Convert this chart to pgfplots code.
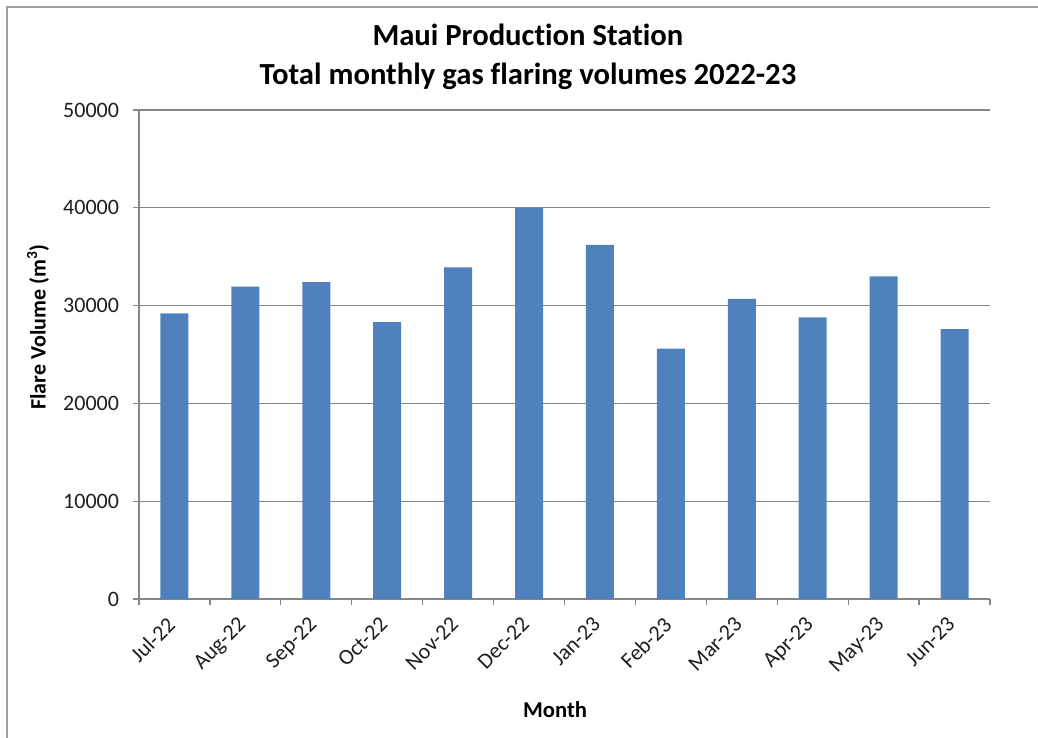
\documentclass[border=0pt]{standalone}
\usepackage{fontspec}
\setmainfont{Carlito}[Ligatures=CommonOff]
\usepackage{pgfplots}
\pgfplotsset{compat=1.18}
\definecolor{barblue}{RGB}{79,129,189}
\definecolor{gridgray}{RGB}{134,134,134}
\definecolor{framegray}{RGB}{160,160,160}
\definecolor{txt}{RGB}{30,30,30}
\begin{document}
\begin{tikzpicture}
\useasboundingbox (0,0) rectangle (778.5pt,-553.5pt);
\draw[framegray, line width=0.9pt] (5.25pt,-553.5pt) -- (5.25pt,-5.25pt) -- (778.5pt,-5.25pt);
\begin{axis}[
  at={(104.25pt,-449.25pt)}, anchor=south west,
  scale only axis, width=638.25pt, height=366.75pt,
  xmin=-0.5, xmax=11.5, ymin=0, ymax=50000,
  ytick={0,10000,20000,30000,40000,50000},
  xtick={-0.5,0.5,1.5,2.5,3.5,4.5,5.5,6.5,7.5,8.5,9.5,10.5,11.5},
  x tick label as interval,
  xticklabels={Jul-22,Aug-22,Sep-22,Oct-22,Nov-22,Dec-22,Jan-23,Feb-23,Mar-23,Apr-23,May-23,Jun-23},
  axis lines*=left,
  axis line style={-, draw=gridgray, line width=0.9pt},
  tick align=outside, major tick length=4.5pt,
  tick style={draw=gridgray, line width=0.9pt},
  ymajorgrids, grid style={gridgray, line width=0.9pt},
  scaled y ticks=false,
  /pgf/number format/assume math mode=true,
  y tick label style={xshift=-7pt, /pgf/number format/fixed, /pgf/number format/1000 sep={}, font=\fontsize{16.5}{20}\selectfont, text=txt},
  x tick label style={xshift=-6.5pt, yshift=-3pt, rotate=45, anchor=north east, font=\fontsize{16.5}{20}\selectfont, text=txt},
  ylabel={Flare Volume (m\textsuperscript{3})},
  ylabel style={at={(rel axis cs:-0.1187,0.556)}, anchor=center, font=\fontsize{16.5}{20}\selectfont\bfseries, text=black},
  xlabel={Month},
  xlabel style={at={(rel axis cs:0.489,-0.227)}, anchor=center, font=\fontsize{17}{20}\selectfont\bfseries, text=black},
  title={Maui Production Station\\Total monthly gas flaring volumes 2022-23},
  title style={at={(rel axis cs:0.457,1.093)}, anchor=center, align=center, font=\fontsize{23}{29}\selectfont\bfseries, text=black},
]
\addplot[ybar, bar width=21pt, fill=barblue, draw=none] coordinates {
(0,29200) (1,31950) (2,32400) (3,28300) (4,33900) (5,40000)
(6,36200) (7,25600) (8,30700) (9,28800) (10,33000) (11,27600)
};
\end{axis}
\end{tikzpicture}
\end{document}
